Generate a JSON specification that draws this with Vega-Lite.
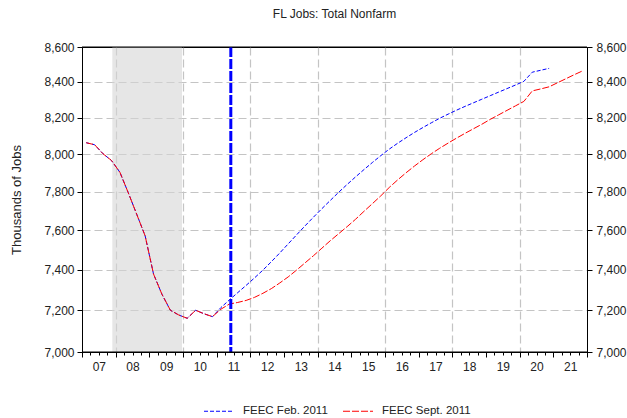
{
  "$schema": "https://vega.github.io/schema/vega-lite/v6.json",
  "width": 505,
  "height": 305,
  "autosize": "none",
  "padding": {"left": 82, "top": 47, "right": 40, "bottom": 66},
  "background": "white",
  "title": {"text": "FL Jobs: Total Nonfarm", "fontSize": 12, "fontWeight": "normal", "color": "#222", "font": "Liberation Sans", "offset": 20},
  "config": {
    "font": "Liberation Sans",
    "view": {"stroke": "#000", "strokeWidth": 1},
    "axis": {
      "domainColor": "#000", "tickColor": "#000", "labelColor": "#222", "labelFontSize": 12,
      "labelFont": "Liberation Sans", "gridColor": "#c4c4c4", "gridDash": [8, 4], "gridWidth": 1.2,
      "titleFont": "Liberation Sans", "titleFontWeight": "normal", "titleFontSize": 13, "titleColor": "#222"
    },
    "legend": {"labelFont": "Liberation Sans"}
  },
  "datasets": {
    "jobs": [
      {"t": 2007.125, "series": "FEEC Feb. 2011", "value": 8062},
      {"t": 2007.375, "series": "FEEC Feb. 2011", "value": 8051},
      {"t": 2007.625, "series": "FEEC Feb. 2011", "value": 8002},
      {"t": 2007.875, "series": "FEEC Feb. 2011", "value": 7966},
      {"t": 2008.125, "series": "FEEC Feb. 2011", "value": 7903},
      {"t": 2008.375, "series": "FEEC Feb. 2011", "value": 7794},
      {"t": 2008.625, "series": "FEEC Feb. 2011", "value": 7682},
      {"t": 2008.875, "series": "FEEC Feb. 2011", "value": 7571},
      {"t": 2009.125, "series": "FEEC Feb. 2011", "value": 7378},
      {"t": 2009.375, "series": "FEEC Feb. 2011", "value": 7278},
      {"t": 2009.625, "series": "FEEC Feb. 2011", "value": 7200},
      {"t": 2009.875, "series": "FEEC Feb. 2011", "value": 7177},
      {"t": 2010.125, "series": "FEEC Feb. 2011", "value": 7161},
      {"t": 2010.375, "series": "FEEC Feb. 2011", "value": 7200},
      {"t": 2010.625, "series": "FEEC Feb. 2011", "value": 7183},
      {"t": 2010.875, "series": "FEEC Feb. 2011", "value": 7169},
      {"t": 2011.125, "series": "FEEC Feb. 2011", "value": 7213},
      {"t": 2011.375, "series": "FEEC Feb. 2011", "value": 7250},
      {"t": 2011.625, "series": "FEEC Feb. 2011", "value": 7286},
      {"t": 2011.875, "series": "FEEC Feb. 2011", "value": 7322},
      {"t": 2012.125, "series": "FEEC Feb. 2011", "value": 7359},
      {"t": 2012.375, "series": "FEEC Feb. 2011", "value": 7398},
      {"t": 2012.625, "series": "FEEC Feb. 2011", "value": 7440},
      {"t": 2012.875, "series": "FEEC Feb. 2011", "value": 7484},
      {"t": 2013.125, "series": "FEEC Feb. 2011", "value": 7530},
      {"t": 2013.375, "series": "FEEC Feb. 2011", "value": 7576},
      {"t": 2013.625, "series": "FEEC Feb. 2011", "value": 7622},
      {"t": 2013.875, "series": "FEEC Feb. 2011", "value": 7667},
      {"t": 2014.125, "series": "FEEC Feb. 2011", "value": 7711},
      {"t": 2014.375, "series": "FEEC Feb. 2011", "value": 7754},
      {"t": 2014.625, "series": "FEEC Feb. 2011", "value": 7797},
      {"t": 2014.875, "series": "FEEC Feb. 2011", "value": 7838},
      {"t": 2015.125, "series": "FEEC Feb. 2011", "value": 7878},
      {"t": 2015.375, "series": "FEEC Feb. 2011", "value": 7917},
      {"t": 2015.625, "series": "FEEC Feb. 2011", "value": 7955},
      {"t": 2015.875, "series": "FEEC Feb. 2011", "value": 7992},
      {"t": 2016.125, "series": "FEEC Feb. 2011", "value": 8027},
      {"t": 2016.375, "series": "FEEC Feb. 2011", "value": 8059},
      {"t": 2016.625, "series": "FEEC Feb. 2011", "value": 8089},
      {"t": 2016.875, "series": "FEEC Feb. 2011", "value": 8118},
      {"t": 2017.125, "series": "FEEC Feb. 2011", "value": 8145},
      {"t": 2017.375, "series": "FEEC Feb. 2011", "value": 8171},
      {"t": 2017.625, "series": "FEEC Feb. 2011", "value": 8196},
      {"t": 2017.875, "series": "FEEC Feb. 2011", "value": 8219},
      {"t": 2018.125, "series": "FEEC Feb. 2011", "value": 8241},
      {"t": 2018.375, "series": "FEEC Feb. 2011", "value": 8262},
      {"t": 2018.625, "series": "FEEC Feb. 2011", "value": 8282},
      {"t": 2018.875, "series": "FEEC Feb. 2011", "value": 8302},
      {"t": 2019.125, "series": "FEEC Feb. 2011", "value": 8322},
      {"t": 2019.375, "series": "FEEC Feb. 2011", "value": 8342},
      {"t": 2019.625, "series": "FEEC Feb. 2011", "value": 8362},
      {"t": 2019.875, "series": "FEEC Feb. 2011", "value": 8382},
      {"t": 2020.125, "series": "FEEC Feb. 2011", "value": 8403},
      {"t": 2020.375, "series": "FEEC Feb. 2011", "value": 8455},
      {"t": 2020.625, "series": "FEEC Feb. 2011", "value": 8466},
      {"t": 2020.875, "series": "FEEC Feb. 2011", "value": 8477},
      {"t": 2007.125, "series": "FEEC Sept. 2011", "value": 8062},
      {"t": 2007.375, "series": "FEEC Sept. 2011", "value": 8051},
      {"t": 2007.625, "series": "FEEC Sept. 2011", "value": 8002},
      {"t": 2007.875, "series": "FEEC Sept. 2011", "value": 7966},
      {"t": 2008.125, "series": "FEEC Sept. 2011", "value": 7903},
      {"t": 2008.375, "series": "FEEC Sept. 2011", "value": 7794},
      {"t": 2008.625, "series": "FEEC Sept. 2011", "value": 7682},
      {"t": 2008.875, "series": "FEEC Sept. 2011", "value": 7571},
      {"t": 2009.125, "series": "FEEC Sept. 2011", "value": 7378},
      {"t": 2009.375, "series": "FEEC Sept. 2011", "value": 7278},
      {"t": 2009.625, "series": "FEEC Sept. 2011", "value": 7200},
      {"t": 2009.875, "series": "FEEC Sept. 2011", "value": 7177},
      {"t": 2010.125, "series": "FEEC Sept. 2011", "value": 7161},
      {"t": 2010.375, "series": "FEEC Sept. 2011", "value": 7200},
      {"t": 2010.625, "series": "FEEC Sept. 2011", "value": 7183},
      {"t": 2010.875, "series": "FEEC Sept. 2011", "value": 7169},
      {"t": 2011.125, "series": "FEEC Sept. 2011", "value": 7205},
      {"t": 2011.375, "series": "FEEC Sept. 2011", "value": 7230},
      {"t": 2011.625, "series": "FEEC Sept. 2011", "value": 7238},
      {"t": 2011.875, "series": "FEEC Sept. 2011", "value": 7248},
      {"t": 2012.125, "series": "FEEC Sept. 2011", "value": 7263},
      {"t": 2012.375, "series": "FEEC Sept. 2011", "value": 7283},
      {"t": 2012.625, "series": "FEEC Sept. 2011", "value": 7306},
      {"t": 2012.875, "series": "FEEC Sept. 2011", "value": 7334},
      {"t": 2013.125, "series": "FEEC Sept. 2011", "value": 7364},
      {"t": 2013.375, "series": "FEEC Sept. 2011", "value": 7398},
      {"t": 2013.625, "series": "FEEC Sept. 2011", "value": 7434},
      {"t": 2013.875, "series": "FEEC Sept. 2011", "value": 7470},
      {"t": 2014.125, "series": "FEEC Sept. 2011", "value": 7508},
      {"t": 2014.375, "series": "FEEC Sept. 2011", "value": 7546},
      {"t": 2014.625, "series": "FEEC Sept. 2011", "value": 7582},
      {"t": 2014.875, "series": "FEEC Sept. 2011", "value": 7618},
      {"t": 2015.125, "series": "FEEC Sept. 2011", "value": 7656},
      {"t": 2015.375, "series": "FEEC Sept. 2011", "value": 7697},
      {"t": 2015.625, "series": "FEEC Sept. 2011", "value": 7737},
      {"t": 2015.875, "series": "FEEC Sept. 2011", "value": 7778},
      {"t": 2016.125, "series": "FEEC Sept. 2011", "value": 7822},
      {"t": 2016.375, "series": "FEEC Sept. 2011", "value": 7862},
      {"t": 2016.625, "series": "FEEC Sept. 2011", "value": 7900},
      {"t": 2016.875, "series": "FEEC Sept. 2011", "value": 7936},
      {"t": 2017.125, "series": "FEEC Sept. 2011", "value": 7970},
      {"t": 2017.375, "series": "FEEC Sept. 2011", "value": 8002},
      {"t": 2017.625, "series": "FEEC Sept. 2011", "value": 8032},
      {"t": 2017.875, "series": "FEEC Sept. 2011", "value": 8060},
      {"t": 2018.125, "series": "FEEC Sept. 2011", "value": 8087},
      {"t": 2018.375, "series": "FEEC Sept. 2011", "value": 8113},
      {"t": 2018.625, "series": "FEEC Sept. 2011", "value": 8138},
      {"t": 2018.875, "series": "FEEC Sept. 2011", "value": 8163},
      {"t": 2019.125, "series": "FEEC Sept. 2011", "value": 8190},
      {"t": 2019.375, "series": "FEEC Sept. 2011", "value": 8215},
      {"t": 2019.625, "series": "FEEC Sept. 2011", "value": 8240},
      {"t": 2019.875, "series": "FEEC Sept. 2011", "value": 8265},
      {"t": 2020.125, "series": "FEEC Sept. 2011", "value": 8290},
      {"t": 2020.375, "series": "FEEC Sept. 2011", "value": 8349},
      {"t": 2020.625, "series": "FEEC Sept. 2011", "value": 8360},
      {"t": 2020.875, "series": "FEEC Sept. 2011", "value": 8372},
      {"t": 2021.125, "series": "FEEC Sept. 2011", "value": 8395},
      {"t": 2021.375, "series": "FEEC Sept. 2011", "value": 8418},
      {"t": 2021.625, "series": "FEEC Sept. 2011", "value": 8441},
      {"t": 2021.875, "series": "FEEC Sept. 2011", "value": 8463}
    ],
    "recession": [{"start": 2007.9, "end": 2009.97}],
    "forecast": [{"t": 2011.42}],
    "frame": [{"from": 2007, "to": 2022, "top": 8600, "bottom": 7000}]
  },
  "layer": [
    {
      "data": {"name": "recession"},
      "mark": {"type": "rect", "fill": "#d6d6d6", "opacity": 0.6},
      "encoding": {
        "x": {"field": "start", "type": "quantitative", "scale": {"domain": [2007, 2022], "nice": false, "zero": false},
          "axis": {"orient": "bottom", "title": null, "values": [2008, 2010, 2012, 2014, 2016, 2018, 2020], "grid": true, "ticks": false, "labels": false, "domain": false}},
        "x2": {"field": "end"},
        "y": {"datum": 7000, "type": "quantitative", "scale": {"type": "log", "domain": [7000, 8600], "nice": false},
          "axis": {"orient": "right", "title": null, "grid": false, "values": [7000, 7200, 7400, 7600, 7800, 8000, 8200, 8400, 8600], "format": ",", "tickSize": 5, "labelPadding": 4}},
        "y2": {"datum": 8600}
      }
    },
    {
      "data": {"name": "jobs"},
      "mark": {"type": "line", "strokeWidth": 1},
      "encoding": {
        "x": {"field": "t", "type": "quantitative", "scale": {"domain": [2007, 2022], "nice": false, "zero": false},
          "axis": {
            "orient": "bottom",
            "title": null,
            "values": [2007.5, 2008.5, 2009.5, 2010.5, 2011.5, 2012.5, 2013.5, 2014.5, 2015.5, 2016.5, 2017.5, 2018.5, 2019.5, 2020.5, 2021.5],
            "labelExpr": "format(floor(datum.value) % 100, '02d')",
            "labelOverlap": false, "labelFlush": false, "labelBound": false,
            "ticks": false, "domain": false, "grid": false, "labelPadding": 9
          }},
        "y": {"field": "value", "type": "quantitative", "scale": {"type": "log", "domain": [7000, 8600], "nice": false},
          "axis": {"orient": "left", "title": "Thousands of Jobs", "titlePadding": 20, "grid": false, "values": [7000, 7200, 7400, 7600, 7800, 8000, 8200, 8400, 8600], "format": ",", "tickSize": 5, "labelPadding": 3}},
        "color": {"field": "series", "type": "nominal",
          "scale": {"domain": ["FEEC Feb. 2011", "FEEC Sept. 2011"], "range": ["#0000ff", "#ff0000"]},
          "legend": {"orient": "none", "legendX": 121, "legendY": 348, "direction": "horizontal", "title": null, "symbolType": "stroke", "symbolSize": 900, "symbolStrokeWidth": 1.2, "labelFontSize": 11.5, "labelOffset": 8, "columnPadding": 12, "padding": 0, "labelColor": "#222"}},
        "strokeDash": {"field": "series", "type": "nominal",
          "scale": {"domain": ["FEEC Feb. 2011", "FEEC Sept. 2011"], "range": [[4, 2], [7, 2]]},
          "legend": {"orient": "none", "legendX": 121, "legendY": 348, "direction": "horizontal", "title": null, "symbolType": "stroke", "symbolSize": 900, "symbolStrokeWidth": 1.2, "labelFontSize": 11.5, "labelOffset": 8, "columnPadding": 12, "padding": 0, "labelColor": "#222"}}
      }
    },
    {
      "data": {"name": "forecast"},
      "mark": {"type": "rule", "color": "#0000ff", "strokeWidth": 3, "strokeDash": [10, 2]},
      "encoding": {
        "x": {"field": "t", "type": "quantitative", "scale": {"domain": [2007, 2022], "nice": false, "zero": false},
          "axis": {"orient": "bottom", "title": null, "values": [2007, 2008, 2009, 2010, 2011, 2012, 2013, 2014, 2015, 2016, 2017, 2018, 2019, 2020, 2021, 2022], "tickSize": 5, "labels": false, "grid": false, "domain": true}}
      }
    },
    {
      "data": {"name": "frame"},
      "mark": {"type": "rule", "color": "#000", "strokeWidth": 1},
      "encoding": {
        "x": {"field": "from", "type": "quantitative", "scale": {"domain": [2007, 2022], "nice": false, "zero": false},
          "axis": {"orient": "bottom", "title": null, "values": [2007, 2007.25, 2007.5, 2007.75, 2008, 2008.25, 2008.5, 2008.75, 2009, 2009.25, 2009.5, 2009.75, 2010, 2010.25, 2010.5, 2010.75, 2011, 2011.25, 2011.5, 2011.75, 2012, 2012.25, 2012.5, 2012.75, 2013, 2013.25, 2013.5, 2013.75, 2014, 2014.25, 2014.5, 2014.75, 2015, 2015.25, 2015.5, 2015.75, 2016, 2016.25, 2016.5, 2016.75, 2017, 2017.25, 2017.5, 2017.75, 2018, 2018.25, 2018.5, 2018.75, 2019, 2019.25, 2019.5, 2019.75, 2020, 2020.25, 2020.5, 2020.75, 2021, 2021.25, 2021.5, 2021.75, 2022], "tickSize": 3, "labels": false, "grid": false, "domain": false}},
        "x2": {"field": "to"},
        "y": {"field": "top", "type": "quantitative", "scale": {"type": "log", "domain": [7000, 8600], "nice": false},
          "axis": {"orient": "left", "title": null, "values": [7200, 7400, 7600, 7800, 8000, 8200, 8400], "grid": true, "ticks": false, "labels": false, "domain": false}}
      }
    },
    {
      "data": {"name": "frame"},
      "mark": {"type": "rule", "color": "#000", "strokeWidth": 1},
      "encoding": {
        "x": {"field": "from", "type": "quantitative", "scale": {"domain": [2007, 2022], "nice": false, "zero": false}, "axis": null},
        "x2": {"field": "to"},
        "y": {"field": "bottom", "type": "quantitative", "scale": {"type": "log", "domain": [7000, 8600], "nice": false}, "axis": null}
      }
    }
  ],
  "resolve": {"axis": {"x": "independent", "y": "independent"}}
}
